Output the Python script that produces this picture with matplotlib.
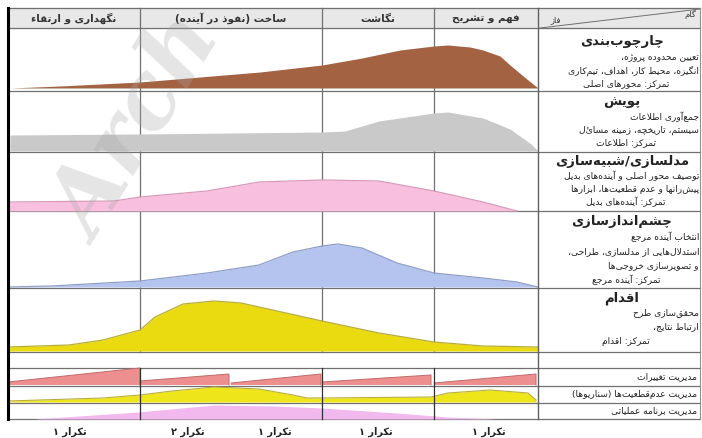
import matplotlib
matplotlib.use('Agg')
import matplotlib.pyplot as plt
import numpy as np

# ---- data (x in px, height above row base in px) ----
col_edges = [8, 140, 322, 434, 538, 700]
row_edges = [8, 28, 91, 152, 211, 288, 352, 368, 386, 403, 419]

phase_names = ['نگهداری و ارتقاء', 'ساخت (نفوذ در آینده)', 'نگاشت', 'فهم و تشریح']

# چارچوب‌بندی (brown)
framing_x = [10, 60, 140, 200, 260, 322, 362, 400, 434, 448, 470, 483, 500, 510, 528, 538]
framing_h = [0, 2, 6, 11, 16, 23, 30, 38, 42, 43, 41, 38, 32, 23, 8, 0]
# پویش (gray)
scan_x = [10, 140, 322, 345, 379, 434, 448, 483, 510, 531, 538]
scan_h = [16, 17, 19, 20, 30, 38, 39, 33, 22, 7, 0]
# مدلسازی (pink)
model_x = [8, 114, 140, 207, 259, 322, 379, 434, 483, 517]
model_h = [9, 10, 14, 20, 29, 31, 30, 20, 9, 0]
# چشم‌اندازسازی (blue)
vision_x = [8, 52, 140, 207, 259, 293, 322, 338, 362, 397, 434, 483, 517, 538]
vision_h = [0, 1, 6, 14, 22, 35, 41, 43, 39, 24, 14, 9, 5, 0]
# اقدام (yellow)
action_x = [8, 69, 103, 140, 155, 183, 214, 241, 322, 379, 434, 483, 538]
action_h = [4, 6, 11, 21, 34, 47, 50, 48, 30, 18, 9, 5, 4]

# مدیریت تغییرات (saw teeth: start, end, h_start, h_end)
change_start = [8, 140, 231, 322, 434]
change_end = [140, 229, 321, 431, 536]
change_h0 = [3, 4, 2, 3, 2]
change_h1 = [17, 11, 11, 10, 11]
# مدیریت عدم‌قطعیت‌ها
uncert_x = [8, 103, 140, 172, 214, 259, 293, 307, 322, 431, 448, 490, 528, 536]
uncert_h = [1, 4, 7, 11, 15, 13, 7, 4, 4, 5, 9, 12, 9, 2]
# مدیریت برنامه عملیاتی
plan_x = [34, 138, 214, 276, 322, 397, 448, 497]
plan_h = [0, 7, 14, 13, 11, 6, 2, 0]

iter_labels = ['تکرار ۱', 'تکرار ۲', 'تکرار ۱', 'تکرار ۱', 'تکرار ۱']
iter_x = [70, 188, 275, 376, 489]

# ---- tiny persian shaper (no arabic_reshaper available) ----
LETTERS = {
    'ء': (0xFE80, 0), 'آ': (0xFE81, 1), 'أ': (0xFE83, 1), 'ا': (0xFE8D, 1),
    'ب': (0xFE8F, 2), 'ة': (0xFE93, 1), 'ت': (0xFE95, 2), 'ث': (0xFE99, 2),
    'ج': (0xFE9D, 2), 'ح': (0xFEA1, 2), 'خ': (0xFEA5, 2), 'د': (0xFEA9, 1),
    'ذ': (0xFEAB, 1), 'ر': (0xFEAD, 1), 'ز': (0xFEAF, 1), 'س': (0xFEB1, 2),
    'ش': (0xFEB5, 2), 'ص': (0xFEB9, 2), 'ض': (0xFEBD, 2), 'ط': (0xFEC1, 2),
    'ظ': (0xFEC5, 2), 'ع': (0xFEC9, 2), 'غ': (0xFECD, 2), 'ف': (0xFED1, 2),
    'ق': (0xFED5, 2), 'ك': (0xFED9, 2), 'ل': (0xFEDD, 2), 'م': (0xFEE1, 2),
    'ن': (0xFEE5, 2), 'ه': (0xFEE9, 2), 'و': (0xFEED, 1), 'ي': (0xFEF1, 2),
    'پ': (0xFB56, 2), 'چ': (0xFB7A, 2), 'ژ': (0xFB8A, 1), 'ک': (0xFB8E, 2),
    'گ': (0xFB92, 2), 'ی': (0xFBFC, 2),
}
LAM_ALEF = {'ا': 0xFEFB, 'آ': 0xFEF5}


def fa(s):
    items = []
    i = 0
    while i < len(s):
        c = s[i]
        if c == 'ل' and i + 1 < len(s) and s[i + 1] in LAM_ALEF:
            items.append((LAM_ALEF[s[i + 1]], 1, True))
            i += 2
            continue
        if c in LETTERS:
            items.append((LETTERS[c][0], LETTERS[c][1], True))
        else:
            items.append((c, 0, False))
        i += 1
    out = []
    for k, (base, t, is_letter) in enumerate(items):
        if not is_letter:
            if base != '\u200c':
                out.append({'(': ')', ')': '('}.get(base, base))
            continue
        jp = k > 0 and items[k - 1][1] == 2 and t in (1, 2)
        jn = t == 2 and k + 1 < len(items) and items[k + 1][1] in (1, 2)
        off = 3 if (jp and jn) else 1 if jp else 2 if jn else 0
        out.append(chr(base + off))
    return ''.join(out[::-1])


plt.rcParams['font.family'] = ['DejaVu Sans']

fig = plt.figure(figsize=(7.02, 4.38), dpi=100)
ax = fig.add_axes([0, 0, 1, 1])
ax.set_xlim(0, 702)
ax.set_ylim(438, 0)
ax.axis('off')

# header background
ax.fill_between([col_edges[0], col_edges[-1]], row_edges[0], row_edges[1], color='#e8e8e8', zorder=0)

# curves in phase rows
curves = [(framing_x, framing_h, '#a36242', None, 1),
          (scan_x, scan_h, '#c9c9c9', None, 2),
          (model_x, model_h, '#f9bfdf', '#d89ab8', 3),
          (vision_x, vision_h, '#b4c4ee', '#8f9fc6', 4),
          (action_x, action_h, '#eadb10', '#b8ad3a', 5)]
base_off = [0, 3, 1, 0, 1, 1]
for xs, hs, col, edge, r in curves:
    base = row_edges[r + 1] - base_off[r]
    xs = np.array(xs)
    top = base - np.array(hs)
    ax.fill_between(xs, top, base, color=col, lw=0, zorder=3)
    if edge:
        ax.plot(xs, top, color=edge, lw=0.9, zorder=4)

# management rows
b = row_edges[8] - 1
for s, e, h0, h1 in zip(change_start, change_end, change_h0, change_h1):
    ax.fill([s, e, e, s], [b - h0, b - h1, b, b], color='#ee8f8f', lw=0, zorder=3)
    ax.plot([s, e, e], [b - h0, b - h1, b], color='#c06a6a', lw=0.7, zorder=4)
b = row_edges[9] - 1
ax.fill_between(uncert_x, b - np.array(uncert_h), b, color='#eee51a', lw=0, zorder=3)
ax.plot(uncert_x, b - np.array(uncert_h), color='#b9ae3a', lw=0.8, zorder=4)
b = row_edges[10]
ax.fill_between(plan_x, b - np.array(plan_h), b, color='#f2b9ef', lw=0, zorder=3)

# table lines
for y in row_edges:
    ax.plot([col_edges[0], col_edges[-1]], [y, y], color='#707070', lw=0.9, zorder=2)
for x in col_edges[1:4]:
    ax.plot([x, x], [row_edges[0], row_edges[6]], color='#707070', lw=0.9, zorder=2)
    ax.plot([x, x], [row_edges[7], row_edges[10]], color='#303030', lw=0.9, zorder=5)
ax.plot([col_edges[4], col_edges[4]], [row_edges[0], row_edges[10]], color='#606060', lw=1.0, zorder=5)
ax.plot([col_edges[-1], col_edges[-1]], [row_edges[0], row_edges[10]], color='#909090', lw=0.8, zorder=5)
ax.plot([col_edges[0], col_edges[0]], [row_edges[0], row_edges[10]], color='black', lw=2.2, zorder=6)
ax.plot([col_edges[4] + 2, col_edges[-1]], [row_edges[1], row_edges[0] + 1], color='#707070', lw=0.7, zorder=2)

# header text
for k, name in enumerate(phase_names):
    cx = (col_edges[k] + col_edges[k + 1]) / 2
    ax.text(cx, 18.5, fa(name), ha='center', va='center', fontsize=7.5, fontweight='bold', color='#333333', zorder=7)
ax.text(556, 20, fa('فاز'), ha='center', va='center', fontsize=6, color='#333333', zorder=7)
ax.text(690, 14, fa('گام'), ha='center', va='center', fontsize=6, color='#333333', zorder=7)

# step labels on the right
step_text = [
    ('چارچوب‌بندی', ['تعیین محدوده پروژه،', 'انگیزه، محیط کار، اهداف، تیم‌کاری'], 'تمرکز: محورهای اصلی', [42, 58, 71, 84]),
    ('پویش', ['جمع‌آوری اطلاعات', 'سیستم، تاریخچه، زمینه مسائل'], 'تمرکز: اطلاعات', [102, 117, 130, 143]),
    ('مدلسازی/شبیه‌سازی', ['توصیف محور اصلی و آینده‌های بدیل', 'پیش‌رانها و عدم قطعیت‌ها، ابزارها'], 'تمرکز: آینده‌های بدیل', [162, 176, 189, 202]),
    ('چشم‌اندازسازی', ['انتخاب آینده مرجع', 'استدلال‌هایی از مدلسازی، طراحی،', 'و تصویرسازی خروجی‌ها'], 'تمرکز: آینده مرجع', [222, 237, 252, 266, 280]),
    ('اقدام', ['محقق‌سازی طرح', 'ارتباط نتایج،'], 'تمرکز: اقدام', [298, 313, 327, 342]),
]
for title, lines, focus, ys in step_text:
    ax.text(622, ys[0], fa(title), ha='center', va='center', fontsize=9.5, fontweight='bold', color='#222222', zorder=7)
    for ln, y in zip(lines, ys[1:-1]):
        ax.text(699, y, fa(ln), ha='right', va='center', fontsize=6.6, color='#222222', zorder=7)
    ax.text(626, ys[-1], fa(focus), ha='center', va='center', fontsize=6.6, color='#222222', zorder=7)

mgmt = ['مدیریت تغییرات', 'مدیریت عدم‌قطعیت‌ها (سناریوها)', 'مدیریت برنامه عملیاتی']
for k, m in enumerate(mgmt):
    y = (row_edges[7 + k] + row_edges[8 + k]) / 2
    ax.text(697, y, fa(m), ha='right', va='center', fontsize=6.6, color='#222222', zorder=7)

for lab, x in zip(iter_labels, iter_x):
    ax.text(x, 432, fa(lab), ha='center', va='center', fontsize=7, fontweight='bold', color='#222222', zorder=7)

# watermark
ax.text(140, 130, 'Arch', rotation=58, fontsize=66, fontweight='bold', fontstyle='italic',
        family='DejaVu Serif', color='#a8a8a8', alpha=0.3, ha='center', va='center', zorder=8)

fig.savefig('out.png', dpi=100)
